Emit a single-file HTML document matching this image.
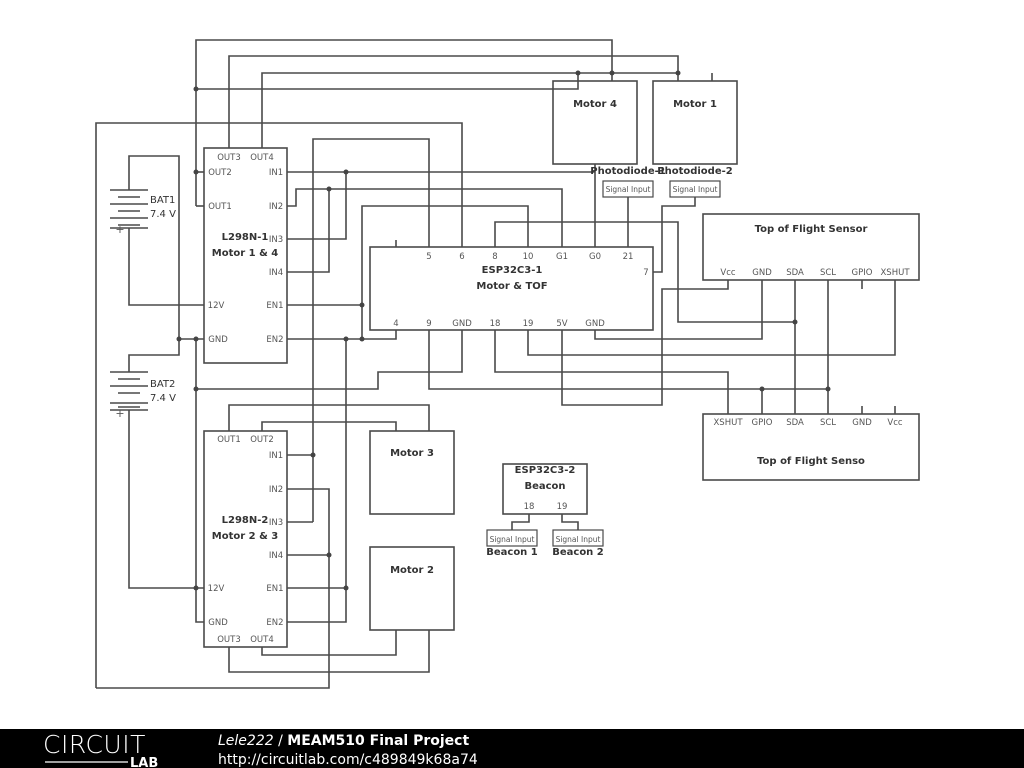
<!DOCTYPE html>
<html><head><meta charset="utf-8"><style>
body{margin:0;background:#fff;width:1024px;height:768px;overflow:hidden;font-family:"DejaVu Sans","Liberation Sans",sans-serif}
svg{position:absolute;left:0;top:0}
</style></head><body>
<svg width="1024" height="768" viewBox="0 0 1024 768" font-family="DejaVu Sans, Liberation Sans, sans-serif">
<g fill="none" stroke="#4a4a4a" stroke-width="1.6">
<rect x="204" y="148" width="83" height="215"/>
<rect x="204" y="431" width="83" height="216"/>
<rect x="370" y="247" width="283" height="83"/>
<rect x="553" y="81" width="84" height="83"/>
<rect x="653" y="81" width="84" height="83"/>
<rect x="370" y="431" width="84" height="83"/>
<rect x="370" y="547" width="84" height="83"/>
<rect x="703" y="214" width="216" height="66"/>
<rect x="703" y="414" width="216" height="66"/>
<rect x="503" y="464" width="84" height="50"/>
<rect x="603" y="181" width="50" height="16" stroke-width="1.2"/>
<rect x="670" y="181" width="50" height="16" stroke-width="1.2"/>
<rect x="487" y="530" width="50" height="16" stroke-width="1.2"/>
<rect x="553" y="530" width="50" height="16" stroke-width="1.2"/>
<polyline points="196,206 196,40 612,40 612,81"/>
<polyline points="229,148 229,56 678,56 678,81"/>
<polyline points="262,148 262,73 678,73"/>
<polyline points="196,89 578,89 578,73"/>
<polyline points="712,73 712,81"/>
<polyline points="196,172 204,172"/>
<polyline points="196,206 204,206"/>
<polyline points="96,688 96,123 462,123 462,247"/>
<polyline points="96,688 329,688 329,489 287,489"/>
<polyline points="129,190 129,156 179,156 179,355 129,355 129,372"/>
<polyline points="129,228 129,305 204,305"/>
<polyline points="179,339 204,339"/>
<polyline points="196,339 196,622 204,622"/>
<polyline points="129,410 129,588 204,588"/>
<polyline points="287,172 595,172"/>
<polyline points="595,164 595,247"/>
<polyline points="313,522 313,139 429,139 429,247"/>
<polyline points="287,206 296,206 296,189 562,189 562,247"/>
<polyline points="362,339 362,206 528,206 528,247"/>
<polyline points="287,239 346,239 346,172"/>
<polyline points="287,272 329,272 329,189"/>
<polyline points="287,305 362,305"/>
<polyline points="287,339 396,339 396,330"/>
<polyline points="396,240 396,247"/>
<polyline points="346,339 346,622 287,622"/>
<polyline points="495,247 495,222 678,222 678,322 795,322"/>
<polyline points="628,247 628,197"/>
<polyline points="653,272 662,272 662,206 695,206 695,197"/>
<polyline points="728,280 728,289 662,289 662,405 562,405 562,330"/>
<polyline points="595,330 595,339 762,339 762,280"/>
<polyline points="528,330 528,355 895,355 895,280"/>
<polyline points="795,280 795,414"/>
<polyline points="828,280 828,414"/>
<polyline points="862,280 862,289"/>
<polyline points="495,330 495,372 728,372 728,414"/>
<polyline points="429,330 429,389 828,389"/>
<polyline points="762,389 762,414"/>
<polyline points="862,406 862,414"/>
<polyline points="895,406 895,414"/>
<polyline points="462,330 462,372 378,372 378,389 196,389"/>
<polyline points="229,431 229,405 429,405 429,431"/>
<polyline points="262,431 262,422 396,422 396,431"/>
<polyline points="287,455 313,455"/>
<polyline points="287,522 313,522"/>
<polyline points="287,555 329,555"/>
<polyline points="287,588 346,588"/>
<polyline points="262,647 262,655 396,655 396,630"/>
<polyline points="229,647 229,672 429,672 429,630"/>
<polyline points="529,514 529,522 512,522 512,530"/>
<polyline points="562,514 562,522 578,522 578,530"/>
</g>
<g stroke="#4a4a4a" stroke-width="1.6">
<line x1="110" y1="190" x2="148" y2="190"/><line x1="118" y1="197" x2="140" y2="197"/>
<line x1="110" y1="204" x2="148" y2="204"/><line x1="118" y1="211" x2="140" y2="211"/>
<line x1="110" y1="218" x2="148" y2="218"/><line x1="118" y1="225" x2="140" y2="225"/>
<line x1="110" y1="228" x2="148" y2="228"/>
<line x1="110" y1="372" x2="148" y2="372"/><line x1="118" y1="379" x2="140" y2="379"/>
<line x1="110" y1="386" x2="148" y2="386"/><line x1="118" y1="393" x2="140" y2="393"/>
<line x1="110" y1="403" x2="148" y2="403"/><line x1="118" y1="407" x2="140" y2="407"/>
<line x1="110" y1="410" x2="148" y2="410"/>
</g>
<g fill="#444">
<circle cx="196" cy="89" r="2.5"/><circle cx="196" cy="172" r="2.5"/>
<circle cx="578" cy="73" r="2.5"/><circle cx="612" cy="73" r="2.5"/><circle cx="678" cy="73" r="2.5"/>
<circle cx="346" cy="172" r="2.5"/><circle cx="329" cy="189" r="2.5"/>
<circle cx="362" cy="305" r="2.5"/><circle cx="362" cy="339" r="2.5"/><circle cx="346" cy="339" r="2.5"/>
<circle cx="179" cy="339" r="2.5"/><circle cx="196" cy="339" r="2.5"/><circle cx="196" cy="389" r="2.5"/><circle cx="196" cy="588" r="2.5"/>
<circle cx="313" cy="455" r="2.5"/><circle cx="329" cy="555" r="2.5"/><circle cx="346" cy="588" r="2.5"/>
<circle cx="795" cy="322" r="2.5"/><circle cx="762" cy="389" r="2.5"/><circle cx="828" cy="389" r="2.5"/>
</g>
<g font-size="8.5" fill="#555" text-anchor="middle">
<text x="229" y="160">OUT3</text><text x="262" y="160">OUT4</text>
<text x="220" y="175">OUT2</text><text x="220" y="209">OUT1</text>
<text x="276" y="175">IN1</text><text x="276" y="209">IN2</text><text x="276" y="242">IN3</text><text x="276" y="275">IN4</text>
<text x="216" y="308">12V</text><text x="275" y="308">EN1</text><text x="218" y="342">GND</text><text x="275" y="342">EN2</text>
<text x="229" y="442">OUT1</text><text x="262" y="442">OUT2</text>
<text x="276" y="458">IN1</text><text x="276" y="492">IN2</text><text x="276" y="525">IN3</text><text x="276" y="558">IN4</text>
<text x="216" y="591">12V</text><text x="275" y="591">EN1</text><text x="218" y="625">GND</text><text x="275" y="625">EN2</text>
<text x="229" y="642">OUT3</text><text x="262" y="642">OUT4</text>
<text x="429" y="259">5</text><text x="462" y="259">6</text><text x="495" y="259">8</text><text x="528" y="259">10</text>
<text x="562" y="259">G1</text><text x="595" y="259">G0</text><text x="628" y="259">21</text><text x="646" y="275">7</text>
<text x="396" y="326">4</text><text x="429" y="326">9</text><text x="462" y="326">GND</text><text x="495" y="326">18</text>
<text x="528" y="326">19</text><text x="562" y="326">5V</text><text x="595" y="326">GND</text>
<text x="728" y="275">Vcc</text><text x="762" y="275">GND</text><text x="795" y="275">SDA</text><text x="828" y="275">SCL</text><text x="862" y="275">GPIO</text><text x="895" y="275">XSHUT</text>
<text x="728" y="425">XSHUT</text><text x="762" y="425">GPIO</text><text x="795" y="425">SDA</text><text x="828" y="425">SCL</text><text x="862" y="425">GND</text><text x="895" y="425">Vcc</text>
<text x="529" y="509">18</text><text x="562" y="509">19</text>
<text x="628" y="192" font-size="7.5">Signal Input</text><text x="695" y="192" font-size="7.5">Signal Input</text>
<text x="512" y="542" font-size="7.5">Signal Input</text><text x="578" y="542" font-size="7.5">Signal Input</text>
<text x="120" y="233" font-size="11">+</text><text x="120" y="417" font-size="11">+</text>
</g>
<g font-size="10" font-weight="bold" fill="#333" text-anchor="middle">
<text x="245" y="240">L298N-1</text><text x="245" y="256">Motor 1 &amp; 4</text>
<text x="245" y="523">L298N-2</text><text x="245" y="539">Motor 2 &amp; 3</text>
<text x="512" y="273">ESP32C3-1</text><text x="512" y="289">Motor &amp; TOF</text>
<text x="595" y="107">Motor 4</text><text x="695" y="107">Motor 1</text>
<text x="412" y="456">Motor 3</text><text x="412" y="573">Motor 2</text>
<text x="811" y="232">Top of Flight Sensor</text><text x="811" y="464">Top of Flight Senso</text>
<text x="545" y="473">ESP32C3-2</text><text x="545" y="489">Beacon</text>
<text x="628" y="174">Photodiode-1</text><text x="695" y="174">Photodiode-2</text>
<text x="512" y="555">Beacon 1</text><text x="578" y="555">Beacon 2</text>
</g>
<g font-size="10" fill="#333">
<text x="150" y="203">BAT1</text><text x="150" y="217">7.4 V</text>
<text x="150" y="387">BAT2</text><text x="150" y="401">7.4 V</text>
</g>
<rect x="0" y="729" width="1024" height="39" fill="#000"/>
<text x="43" y="753" font-size="25" fill="#fff" font-family="DejaVu Sans, sans-serif" font-weight="200" letter-spacing="0.5">CIRCUIT</text>
<line x1="45" y1="762" x2="128" y2="762" stroke="#fff" stroke-width="1.2"/>
<text x="130" y="767" font-size="13" font-weight="bold" fill="#fff">LAB</text>
<text x="218" y="745" font-size="14" fill="#fff"><tspan font-style="italic">Lele222</tspan> / <tspan font-weight="bold">MEAM510 Final Project</tspan></text>
<text x="218" y="764" font-size="14" fill="#fff">http://circuitlab.com/c489849k68a74</text>
</svg>
</body></html>
